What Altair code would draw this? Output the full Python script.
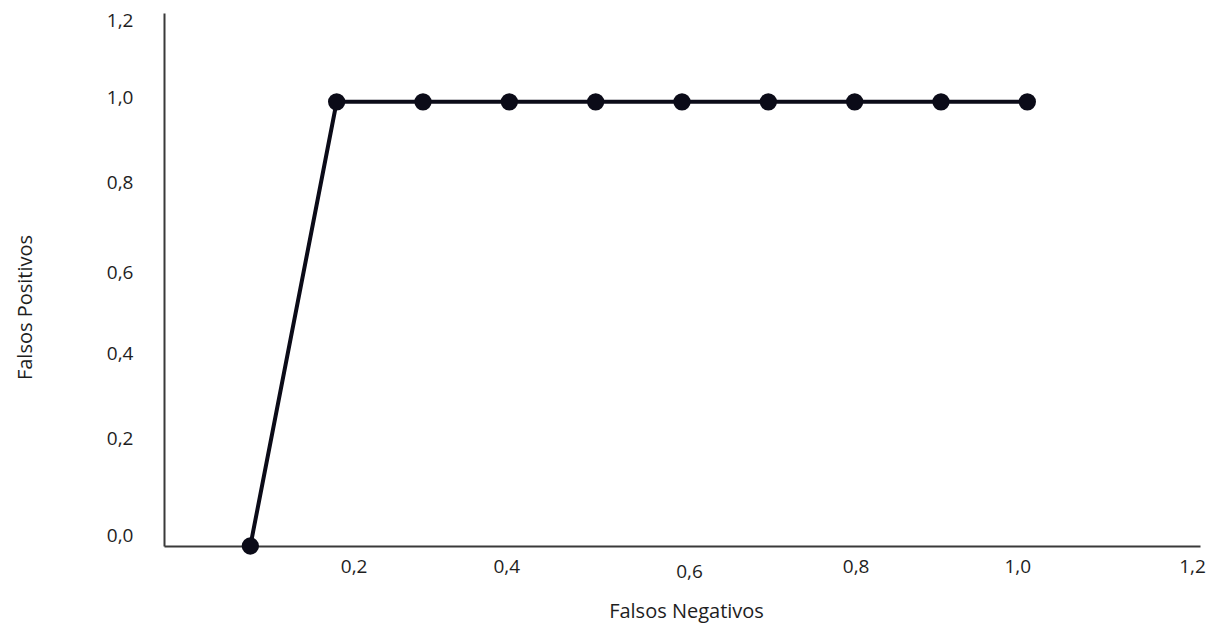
import altair as alt
import pandas as pd

falsos_negativos = [0.1, 0.2, 0.3, 0.4, 0.5, 0.6, 0.7, 0.8, 0.9, 1.0]
falsos_positivos = [0.0, 1.0, 1.0, 1.0, 1.0, 1.0, 1.0, 1.0, 1.0, 1.0]
x_ticks = [0.2, 0.4, 0.6, 0.8, 1.0, 1.2]
y_ticks = [0.0, 0.2, 0.4, 0.6, 0.8, 1.0, 1.2]

df = pd.DataFrame({"fn": falsos_negativos, "fp": falsos_positivos})

FONT = "Open Sans"
COLOR = "#0b0b18"
TEXT = "#1e1e1e"
label_expr = "replace(format(datum.value, '.1f'), '.', ',')"


def per_label(pairs, default):
    return {
        "condition": [
            {"test": f"abs(datum.value - {v}) < 0.01", "value": off} for v, off in pairs
        ],
        "value": default,
    }


x_offsets = per_label([(0.2, 17), (0.4, -3), (0.6, 7), (0.8, 1), (1.0, -10), (1.2, -8)], 0)
x_padding = per_label([(0.6, 16)], 11)
y_offsets = per_label([(1.2, 7), (1.0, -4), (0.8, -8), (0.6, -7), (0.4, -15), (0.2, -19), (0.0, -11)], 0)

x_enc = alt.X(
    "fn:Q",
    scale=alt.Scale(domain=[0, 1.2], nice=False, zero=True),
    axis=alt.Axis(
        title="Falsos Negativos",
        values=x_ticks,
        labelExpr=label_expr,
        grid=False,
        ticks=False,
        tickSize=0,
        labelPadding=x_padding,
        labelOffset=x_offsets,
        labelFontSize=19,
        labelFont=FONT,
        labelColor=TEXT,
        labelFlush=False,
        labelOverlap=False,
        domainColor="#3a3a3a",
        domainWidth=2,
        titleFont=FONT,
        titleFontSize=20,
        titleFontWeight="normal",
        titleColor=TEXT,
        titleBaseline="middle",
        titleAnchor="start",
        titleAlign="center",
        titleX=522,
        titleY=65,
    ),
)
y_enc = alt.Y(
    "fp:Q",
    scale=alt.Scale(domain=[0, 1.2], nice=False, zero=True),
    axis=alt.Axis(
        title="Falsos Positivos",
        values=y_ticks,
        labelExpr=label_expr,
        grid=False,
        ticks=False,
        tickSize=0,
        labelPadding=31,
        labelOffset=y_offsets,
        labelFontSize=19,
        labelFont=FONT,
        labelColor=TEXT,
        labelFlush=False,
        labelOverlap=False,
        domainColor="#3a3a3a",
        domainWidth=2,
        titleFont=FONT,
        titleFontSize=20,
        titleFontWeight="normal",
        titleColor=TEXT,
        titleAngle=-90,
        titleBaseline="middle",
        titleAlign="center",
        titleAnchor="start",
        titleX=-139,
        titleY=294,
    ),
)

base = alt.Chart(df)
line = base.mark_line(color=COLOR, strokeWidth=4).encode(x=x_enc, y=y_enc)
pts = base.mark_circle(color=COLOR, size=300, opacity=1).encode(x="fn:Q", y="fp:Q")

chart = (
    alt.layer(line, pts)
    .properties(
        width=1036,
        height=533,
        background="white",
        autosize=alt.AutoSizeParams(type="none"),
        padding={"left": 156, "top": 5, "right": 10, "bottom": 77},
    )
    .configure_view(stroke="transparent", strokeWidth=0)
)

chart.save("out.html", embed_options={"renderer": "svg", "actions": False})
